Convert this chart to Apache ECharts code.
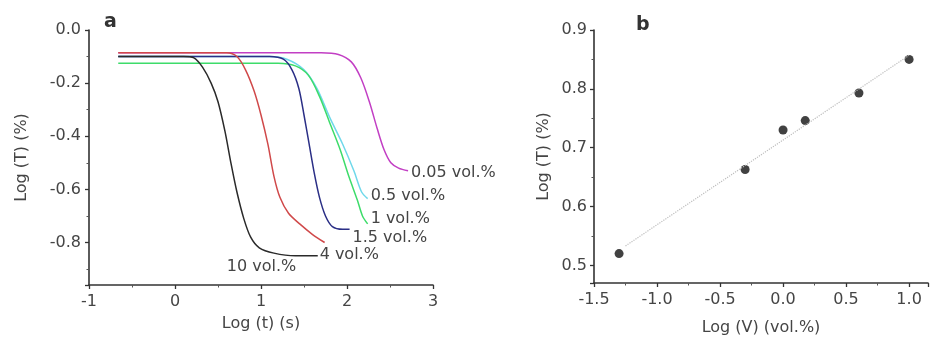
<!DOCTYPE html>
<html>
<head>
<meta charset="utf-8">
<script src="https://cdn.jsdelivr.net/npm/echarts@6/dist/echarts.min.js"></script>
<style>
  html, body { margin: 0; padding: 0; background: #fff; }
  #chart { width: 930px; height: 341px; }
</style>
</head>
<body>
<div id="chart"></div>
<script>
// panel a: log(t) vs log(T) curves, one per concentration
const curveNames = ['0.05 vol.%', '0.5 vol.%', '1 vol.%', '1.5 vol.%', '4 vol.%', '10 vol.%']
const curveColors = ['#c23fc4', '#6fd8ea', '#3ddc6a', '#2b2f86', '#d0494a', '#2a2a2a']

const curve005 = [[-0.66, -0.086], [1.7, -0.086], [1.9, -0.092], [2.05, -0.12], [2.16, -0.18], [2.26, -0.27],
  [2.35, -0.37], [2.43, -0.45], [2.51, -0.50], [2.6, -0.52], [2.71, -0.53]]
const curve05 = [[-0.66, -0.10], [1.1, -0.10], [1.3, -0.11], [1.5, -0.15], [1.65, -0.22], [1.8, -0.33],
  [1.95, -0.43], [2.08, -0.53], [2.17, -0.61], [2.24, -0.635]]
const curve1 = [[-0.66, -0.125], [1.2, -0.125], [1.4, -0.135], [1.55, -0.17], [1.68, -0.25], [1.8, -0.35],
  [1.92, -0.45], [2.02, -0.55], [2.12, -0.64], [2.18, -0.70], [2.24, -0.73]]
const curve15 = [[-0.66, -0.10], [1.1, -0.10], [1.26, -0.11], [1.36, -0.15], [1.44, -0.22], [1.50, -0.32],
  [1.56, -0.43], [1.62, -0.54], [1.68, -0.63], [1.75, -0.70], [1.83, -0.74], [1.95, -0.75], [2.03, -0.75]]
const curve4 = [[-0.66, -0.086], [0.6, -0.086], [0.72, -0.10], [0.82, -0.15], [0.92, -0.23], [1.0, -0.32],
  [1.08, -0.43], [1.15, -0.55], [1.22, -0.63], [1.32, -0.69], [1.45, -0.73], [1.60, -0.77], [1.74, -0.80]]
const curve10 = [[-0.66, -0.10], [0.1, -0.10], [0.22, -0.105], [0.32, -0.14], [0.42, -0.20], [0.5, -0.27], [0.58, -0.38],
  [0.65, -0.50], [0.72, -0.61], [0.8, -0.71], [0.88, -0.78], [0.98, -0.82], [1.15, -0.84], [1.4, -0.85], [1.66, -0.85]]
const curves = [curve005, curve05, curve1, curve15, curve4, curve10]

// panel b: log(V) vs log(T) points and the dotted fit
const logV = [-1.301, -0.301, 0, 0.176, 0.602, 1.0]
const logT = [0.52, 0.663, 0.73, 0.746, 0.793, 0.85]
const fitLine = [[-1.25, 0.533], [1.0, 0.857]]

// where each end label sits relative to its curve's last point
const labelOffsets = [[0, 2], [0, -3], [0, -5], [0, 9], [-8, 12], [-94, 11]]

const font = 'DejaVu Sans, Verdana, sans-serif'
const textGray = '#454545'
const fs = 16

function axisBase() {
  return {
    axisLine: { show: true, onZero: false, lineStyle: { color: '#333', width: 1.6 } },
    axisTick: { show: true, length: 4, lineStyle: { color: '#333', width: 1.3 } },
    minorTick: { show: true, splitNumber: 2, length: 2.5, lineStyle: { color: '#555' } },
    splitLine: { show: false },
    axisLabel: { color: textGray, fontSize: fs, fontFamily: font, margin: 9 },
    nameTextStyle: { color: textGray, fontSize: fs, fontFamily: font },
    nameLocation: 'middle'
  }
}

const leftSeries = curves.map((c, i) => ({
  name: curveNames[i],
  type: 'line',
  xAxisIndex: 0,
  yAxisIndex: 0,
  data: c,
  smooth: 0.3,
  symbol: 'none',
  lineStyle: { color: curveColors[i], width: 1.5 },
  endLabel: {
    show: true,
    formatter: curveNames[i],
    color: textGray,
    fontSize: fs,
    fontFamily: font,
    distance: 3,
    offset: labelOffsets[i]
  },
  z: 3
}))

const option = {
  animation: false,
  backgroundColor: '#fff',
  grid: [
    { left: 89, right: 497, top: 30, bottom: 56 },
    { left: 594, right: 2, top: 30, bottom: 56 }
  ],
  xAxis: [
    {
      ...axisBase(),
      gridIndex: 0,
      type: 'value',
      min: -1,
      max: 3,
      interval: 1,
      name: 'Log (t) (s)',
      nameGap: 31
    },
    {
      ...axisBase(),
      gridIndex: 1,
      type: 'value',
      min: -1.5,
      max: 1.15,
      interval: 0.5,
      name: 'Log (V) (vol.%)',
      nameGap: 37,
      axisLabel: {
        color: textGray, fontSize: fs, fontFamily: font, margin: 9, showMaxLabel: false,
        formatter: v => v.toFixed(1)
      }
    }
  ],
  yAxis: [
    {
      ...axisBase(),
      gridIndex: 0,
      type: 'value',
      min: -0.96,
      max: 0,
      splitNumber: 5,
      name: 'Log (T) (%)',
      nameGap: 59,
      axisLabel: {
        color: textGray, fontSize: fs, fontFamily: font, margin: 8, showMinLabel: false,
        formatter: v => v.toFixed(1)
      }
    },
    {
      ...axisBase(),
      gridIndex: 1,
      type: 'value',
      min: 0.47,
      max: 0.9,
      splitNumber: 5,
      name: 'Log (T) (%)',
      nameGap: 42,
      axisLabel: {
        color: textGray, fontSize: fs, fontFamily: font, margin: 7, showMinLabel: false,
        formatter: v => v.toFixed(1)
      }
    }
  ],
  graphic: [
    { type: 'text', left: 104, top: 13, style: { text: 'a', fontSize: 19, fontWeight: 'bold', fill: '#333', fontFamily: font } },
    { type: 'text', left: 636, top: 16, style: { text: 'b', fontSize: 19, fontWeight: 'bold', fill: '#333', fontFamily: font } }
  ],
  series: [
    ...leftSeries,
    {
      type: 'line',
      xAxisIndex: 1,
      yAxisIndex: 1,
      data: fitLine,
      symbol: 'none',
      lineStyle: { color: '#bdbdbd', width: 1.2, type: 'dotted' }
    },
    {
      type: 'scatter',
      xAxisIndex: 1,
      yAxisIndex: 1,
      data: logV.map((v, i) => [v, logT[i]]),
      symbolSize: 9,
      itemStyle: { color: '#111' }
    }
  ]
}

echarts.init(document.getElementById('chart')).setOption(option)
</script>
</body>
</html>
